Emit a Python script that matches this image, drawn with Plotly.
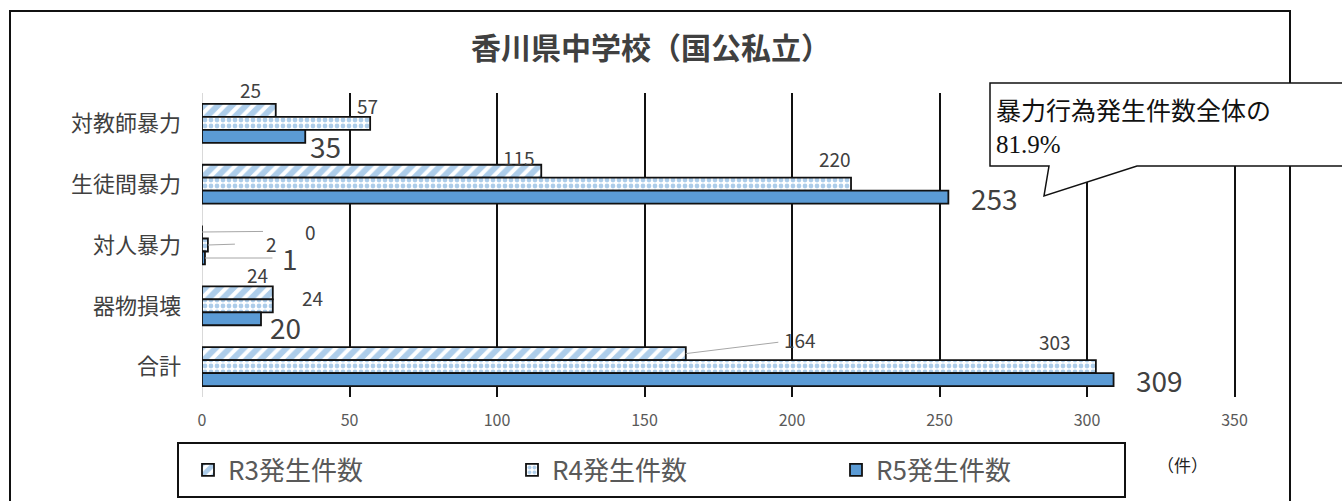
import plotly.graph_objects as go

# ---------------- data ----------------
categories = ["対教師暴力", "生徒間暴力", "対人暴力", "器物損壊", "合計"]
series_names = ["R3発生件数", "R4発生件数", "R5発生件数"]
r3_values = [25, 115, 0, 24, 164]
r4_values = [57, 220, 2, 24, 303]
r5_values = [35, 253, 1, 20, 309]
x_ticks = [0, 50, 100, 150, 200, 250, 300, 350]
title_text = "香川県中学校（国公私立）"
callout_text = "暴力行為発生件数全体の<br>81.9%"
unit_text = "（件）"

# ---------------- layout geometry (pixels) ----------------
FIG_W, FIG_H = 1342, 501
M_L, M_R, M_T, M_B = 202, 106, 93, 104
PW = FIG_W - M_L - M_R
PH = FIG_H - M_T - M_B

def px(x):
    return (x - M_L) / PW

def py(y):
    return (FIG_H - M_B - y) / PH

BLUE = "#5b9bd5"
TXT = "#404040"
FONT = "Noto Sans CJK JP"

fig = go.Figure()
styles = [
    dict(pattern=dict(shape="/", fgcolor=BLUE, bgcolor="white", size=10, solidity=0.6)),
    dict(pattern=dict(shape=".", fgcolor=BLUE, bgcolor="white", size=6, solidity=0.5)),
    dict(color=BLUE),
]
for name, vals, st in zip(series_names, [r3_values, r4_values, r5_values], styles):
    marker = dict(line=dict(color="#111111", width=1.8))
    if "pattern" in st:
        marker["color"] = "white"
        marker["pattern"] = st["pattern"]
    else:
        marker["color"] = st["color"]
    fig.add_trace(go.Bar(y=categories, x=vals, orientation="h", name=name,
                         marker=marker, hoverinfo="skip"))

# ---------------- data labels ----------------
# label offsets (pixels) relative to bar end / category centre, per series
bar_dy = [-13, 0, 13]
label_dx = [
    [-25, -22, 108, -15, 114],
    [-3, -16, 64, 40, -41],
    [20, 46, 85, 24, 46],
]
label_dy = [
    [-34, -27, -14, -31, -27],
    [-18, -26, -2, -8, -25],
    [23, 14, 13, 21, 13],
]
label_size = [19, 19, 28]
leader = {(0, 2): 40, (1, 2): 30, (2, 2): 8, (0, 4): 4}
for s, vals in enumerate([r3_values, r4_values, r5_values]):
    for i, (cat, v) in enumerate(zip(categories, vals)):
        dx, dy = label_dx[s][i], label_dy[s][i]
        if (s, i) in leader:
            fig.add_annotation(
                x=v, y=cat, xref="x", yref="y", text=str(v), showarrow=True,
                arrowhead=0, arrowwidth=1, arrowcolor="#a6a6a6",
                startstandoff=leader[(s, i)],
                ax=dx, ay=dy - bar_dy[s], yshift=-bar_dy[s],
                font=dict(family=FONT, size=label_size[s], color=TXT),
            )
        else:
            fig.add_annotation(
                x=v, y=cat, xref="x", yref="y", text=str(v), showarrow=False,
                xanchor="center", yanchor="middle", xshift=dx, yshift=-dy,
                font=dict(family=FONT, size=label_size[s], color=TXT),
            )

# ---------------- title / unit / callout ----------------
fig.add_annotation(x=px(651), y=py(46), xref="paper", yref="paper", text=f"<b>{title_text}</b>",
                   showarrow=False, xanchor="center", yanchor="middle",
                   font=dict(family=FONT, size=30, color=TXT))
fig.add_annotation(x=px(1182), y=py(467), xref="paper", yref="paper", text=unit_text,
                   showarrow=False, xanchor="center", yanchor="middle",
                   font=dict(family="Liberation Serif, " + FONT, size=17, color="#222222"))

shapes = []
# outer chart border
shapes.append(dict(type="rect", xref="paper", yref="paper",
                   x0=px(10), x1=px(1290), y0=py(520), y1=py(11),
                   line=dict(color="#111111", width=2), fillcolor="rgba(0,0,0,0)", layer="above"))
# legend box
shapes.append(dict(type="rect", xref="paper", yref="paper",
                   x0=px(178), x1=px(1125), y0=py(497), y1=py(443),
                   line=dict(color="#111111", width=2), fillcolor="rgba(0,0,0,0)", layer="above"))
# callout box
pts = [(990, 83), (1345, 83), (1345, 166), (1137, 166), (1044, 196), (1049, 166), (990, 166)]
path = "M " + " L ".join(f"{px(a):.5f},{py(b):.5f}" for a, b in pts) + " Z"
shapes.append(dict(type="path", xref="paper", yref="paper", path=path,
                   line=dict(color="#111111", width=1.5), fillcolor="white", layer="above"))
fig.add_annotation(x=px(994), y=py(128), xref="paper", yref="paper", text=callout_text,
                   showarrow=False, xanchor="left", yanchor="middle", align="left",
                   font=dict(family="Liberation Serif, " + FONT, size=25, color="#111111"))

fig.update_layout(
    width=FIG_W, height=FIG_H,
    margin=dict(l=M_L, r=M_R, t=M_T, b=M_B, autoexpand=False),
    paper_bgcolor="white", plot_bgcolor="white",
    barmode="group", bargap=0.36, bargroupgap=0,
    shapes=shapes,
    showlegend=True,
    legend=dict(orientation="h", x=px(188), y=py(470), xanchor="left", yanchor="middle",
                traceorder="normal", entrywidth=279, entrywidthmode="pixels",
                font=dict(family=FONT, size=26, color="#595959"),
                bgcolor="rgba(0,0,0,0)", borderwidth=0),
    xaxis=dict(range=[0, 350.5], tickvals=x_ticks, showgrid=True, gridcolor="#111111", gridwidth=2,
               zeroline=True, zerolinecolor="#d9d9d9", zerolinewidth=1, showline=False,
               ticks="", ticklabelstandoff=12,
               tickfont=dict(family=FONT, size=16, color="#595959")),
    yaxis=dict(range=[len(categories) - 0.5, -0.5], autorange=False,
               showgrid=False, zeroline=False, showline=False, ticks="",
               ticklabelstandoff=20,
               tickfont=dict(family=FONT, size=22, color=TXT)),
)

fig.write_html("out.html")
